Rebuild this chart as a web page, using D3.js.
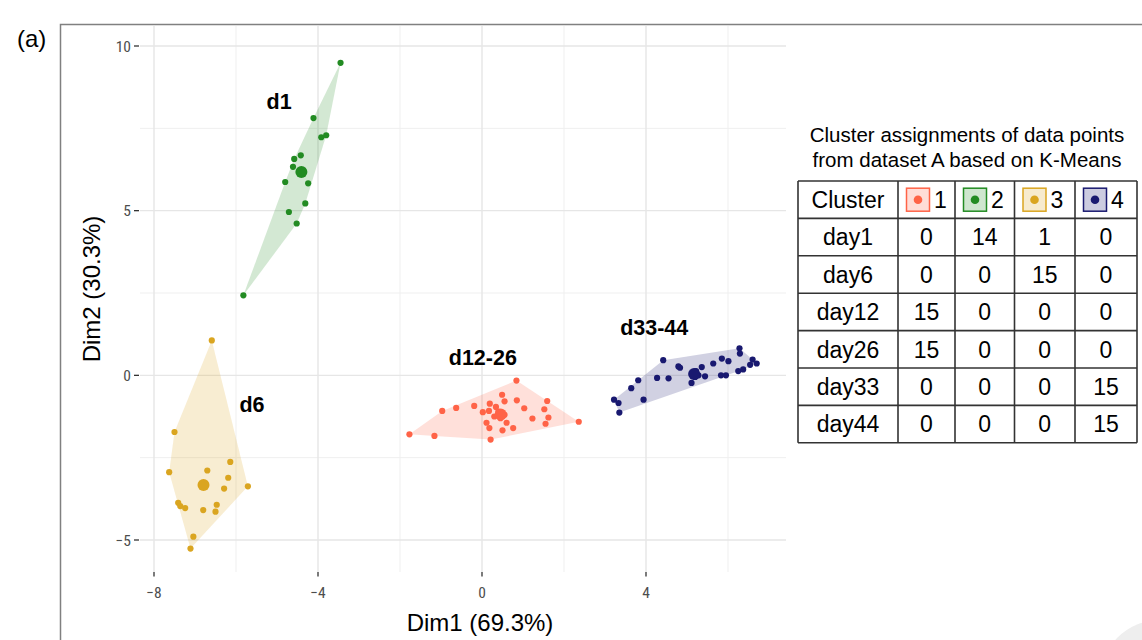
<!DOCTYPE html>
<html>
<head>
<meta charset="utf-8">
<script src="https://cdn.jsdelivr.net/npm/d3@7"></script>
<style>
  html, body { margin: 0; padding: 0; background: #fff; }
  svg { display: block; }
</style>
</head>
<body>
<svg id="chart" width="1142" height="640"></svg>
<script>
// ---- K-means results on the first two PCA dimensions ----
const cluster1X = [-1.77, -1.16, -0.97, -0.63, -0.19, 0.02, 0.19, 0.17, 0.34, 0.11, 0.18, 0.21, 0.50, 0.60, 0.76,
                   0.49, 0.55, 0.84, 0.85, 1.03, 1.23, 1.59, 1.52, 1.62, 1.55, 2.36, 0.40, 0.45, 0.30, 0.55];
const cluster1Y = [-1.79, -1.84, -1.08, -0.99, -0.93, -1.12, -0.86, -1.08, -0.96, -1.44, -1.60, -1.95, -1.67, -1.44, -1.60,
                   -0.59, -0.79, -0.16, -0.76, -1.00, -1.31, -0.78, -1.03, -1.28, -1.47, -1.41, -1.10, -1.30, -1.25, -1.20];

const cluster2X = [-3.45, -4.11, -3.92, -3.80, -4.42, -4.58, -4.61, -4.80, -4.24, -4.31, -4.71, -4.52, -5.82, -4.38];
const cluster2Y = [9.49, 7.81, 7.23, 7.29, 6.68, 6.57, 6.33, 5.87, 5.83, 5.22, 4.96, 4.61, 2.43, 6.15];

const cluster3X = [-6.59, -7.50, -7.63, -6.70, -6.14, -6.19, -6.29, -5.71, -7.41, -7.36, -7.24, -6.80, -6.47, -6.50, -7.04, -7.11];
const cluster3Y = [1.06, -1.72, -2.94, -2.89, -2.63, -3.11, -3.44, -3.37, -3.87, -3.97, -4.03, -4.09, -3.93, -4.14, -4.90, -5.26];

const cluster4X = [3.22, 3.33, 3.35, 3.64, 3.81, 3.94, 4.27, 4.42, 4.55, 4.79, 4.83, 5.11, 5.15, 5.22, 5.28,
                   5.36, 5.44, 5.64, 5.83, 5.95, 5.85, 6.01, 6.25, 6.37, 6.29, 6.28, 6.54, 6.60, 6.70, 5.20];
const cluster4Y = [-0.74, -0.84, -1.13, -0.39, -0.15, -0.74, -0.08, 0.46, -0.09, 0.27, 0.23, -0.23, 0.05, 0.13, 0.00,
                   0.25, -0.03, 0.36, 0.00, 0.00, 0.51, 0.43, 0.13, 0.18, 0.66, 0.82, 0.32, 0.48, 0.36, -0.05];

const clusterColors = ["#FF6347", "#228B22", "#DAA520", "#191970"];

// Group labels and their anchor in data units
const groupLabels = ["d12-26", "d1", "d6", "d33-44"];
const groupLabelX = [0.02, -4.95, -5.61, 4.20];
const groupLabelY = [0.55, 8.33, -0.88, 1.46];

// Axis ticks
const xTicks = [-8, -4, 0, 4];
const xMinor = [-6, -2, 2, 6];
const yTicks = [-5, 0, 5, 10];
const yMinor = [-2.5, 2.5, 7.5];

// Contingency table: sampling day vs assigned cluster
const tableDays = ["day1", "day6", "day12", "day26", "day33", "day44"];
const countsCluster1 = [0, 0, 15, 15, 0, 0];
const countsCluster2 = [14, 0, 0, 0, 0, 0];
const countsCluster3 = [1, 15, 0, 0, 0, 0];
const countsCluster4 = [0, 0, 0, 0, 15, 15];
const tableTitle = ["Cluster assignments of data points", "from dataset A based on K-Means"];

// ---- drawing ----
const svg = d3.select("#chart");
const FONT = "'Liberation Sans', Arial, Helvetica, sans-serif";
const NARROW = "'Liberation Sans Narrow', 'Arial Narrow', 'Roboto Condensed', 'Liberation Sans', sans-serif";

const x = d3.scaleLinear().domain([-8, 4]).range([154, 646]);
const y = d3.scaleLinear().domain([-5, 10]).range([540, 46]);

const panel = { left: 140, right: 786, top: 26, bottom: 572 };

// faint decoration at the lower right corner
svg.append("circle").attr("cx", 1160).attr("cy", 680).attr("r", 60).attr("fill", "#eeeeee");

// grid
const grid = svg.append("g");
grid.selectAll("line.vmin").data(xMinor).join("line")
  .attr("x1", d => x(d)).attr("x2", d => x(d)).attr("y1", panel.top).attr("y2", panel.bottom)
  .attr("stroke", "#efefef").attr("stroke-width", 1);
grid.selectAll("line.hmin").data(yMinor).join("line")
  .attr("y1", d => y(d)).attr("y2", d => y(d)).attr("x1", panel.left).attr("x2", panel.right)
  .attr("stroke", "#efefef").attr("stroke-width", 1);
grid.selectAll("line.vmaj").data(xTicks).join("line")
  .attr("x1", d => x(d)).attr("x2", d => x(d)).attr("y1", panel.top).attr("y2", panel.bottom)
  .attr("stroke", "#e6e6e6").attr("stroke-width", 1.4);
grid.selectAll("line.hmaj").data(yTicks).join("line")
  .attr("y1", d => y(d)).attr("y2", d => y(d)).attr("x1", panel.left).attr("x2", panel.right)
  .attr("stroke", "#e6e6e6").attr("stroke-width", 1.4);

const clusters = [
  { xs: cluster1X, ys: cluster1Y },
  { xs: cluster2X, ys: cluster2Y },
  { xs: cluster3X, ys: cluster3Y },
  { xs: cluster4X, ys: cluster4Y }
].map((c, i) => {
  const pts = c.xs.map((v, j) => [x(v), y(c.ys[j])]);
  return { pts, color: clusterColors[i], cx: d3.mean(c.xs), cy: d3.mean(c.ys) };
});

// convex hulls
svg.append("g").selectAll("path").data(clusters).join("path")
  .attr("d", d => "M" + d3.polygonHull(d.pts).join("L") + "Z")
  .attr("fill", d => d.color).attr("fill-opacity", 0.2);

// points
clusters.forEach(c => {
  svg.append("g").selectAll("circle").data(c.pts).join("circle")
    .attr("cx", d => d[0]).attr("cy", d => d[1]).attr("r", 3.1)
    .attr("fill", c.color);
  svg.append("circle").attr("cx", x(c.cx)).attr("cy", y(c.cy)).attr("r", 6)
    .attr("fill", c.color);
});

// group labels
svg.append("g").selectAll("text").data(groupLabels).join("text")
  .attr("x", (d, i) => x(groupLabelX[i])).attr("y", (d, i) => y(groupLabelY[i]))
  .attr("text-anchor", "middle").attr("dy", "0.36em")
  .attr("font-family", FONT).attr("font-weight", "bold").attr("font-size", 21.5)
  .attr("fill", "#000").text(d => d);

// axis ticks and labels
const axes = svg.append("g");
axes.selectAll("line.xt").data(xTicks).join("line")
  .attr("x1", d => x(d)).attr("x2", d => x(d)).attr("y1", panel.bottom).attr("y2", panel.bottom + 4.5)
  .attr("stroke", "#333").attr("stroke-width", 1.3);
axes.selectAll("text.xl").data(xTicks).join("text")
  .attr("x", d => x(d)).attr("y", 597.5).attr("text-anchor", "middle")
  .attr("font-family", NARROW).attr("font-size", 15.5).attr("fill", "#4d4d4d")
  .text(d => d < 0 ? "\u2212" + Math.abs(d) : d);
axes.selectAll("line.yt").data(yTicks).join("line")
  .attr("y1", d => y(d)).attr("y2", d => y(d)).attr("x1", 134).attr("x2", panel.left - 1)
  .attr("stroke", "#333").attr("stroke-width", 1.3);
axes.selectAll("text.yl").data(yTicks).join("text")
  .attr("x", 131).attr("y", d => y(d)).attr("dy", "0.36em").attr("text-anchor", "end")
  .attr("font-family", NARROW).attr("font-size", 15.5).attr("fill", "#4d4d4d")
  .text(d => d < 0 ? "\u2212" + Math.abs(d) : d);

// axis titles
svg.append("text").attr("x", 480).attr("y", 631).attr("text-anchor", "middle")
  .attr("font-family", FONT).attr("font-size", 24).attr("fill", "#000")
  .text("Dim1 (69.3%)");
svg.append("text").attr("transform", "translate(100,289) rotate(-90)").attr("text-anchor", "middle")
  .attr("font-family", FONT).attr("font-size", 24).attr("fill", "#000")
  .text("Dim2 (30.3%)");

// panel tag and frame
svg.append("text").attr("x", 17).attr("y", 47).attr("font-family", FONT).attr("font-size", 24)
  .attr("fill", "#000").text("(a)");
svg.append("path").attr("d", "M60.5,641V24.5H1143").attr("fill", "none")
  .attr("stroke", "#808080").attr("stroke-width", 1.5);

// ---- table ----
const colEdges = [798, 898, 955, 1014.5, 1075, 1137];
const rowTop = 181, rowH = 37.4;
const nRows = tableDays.length + 1;
const tbl = svg.append("g");

svg.append("g").selectAll("text").data(tableTitle).join("text")
  .attr("x", 967).attr("y", (d, i) => 142 + i * 25).attr("text-anchor", "middle")
  .attr("font-family", FONT).attr("font-size", 20.5).attr("fill", "#000").text(d => d);

const colCenter = i => (colEdges[i] + colEdges[i + 1]) / 2;
const rowCenter = r => rowTop + rowH * (r + 0.5);
const CELL = 23;

// header cells
tbl.append("text").attr("x", colCenter(0)).attr("y", rowCenter(0)).attr("dy", "0.36em")
  .attr("text-anchor", "middle").attr("font-family", FONT).attr("font-size", CELL).text("Cluster");
clusterColors.forEach((c, i) => {
  const sx = colEdges[i + 1] + 8.5, sy = rowCenter(0) - 11.5;
  tbl.append("rect").attr("x", sx).attr("y", sy).attr("width", 23).attr("height", 23)
    .attr("fill", c).attr("fill-opacity", 0.22).attr("stroke", c).attr("stroke-width", 1.5);
  tbl.append("circle").attr("cx", sx + 11.5).attr("cy", sy + 11.5).attr("r", 4.3).attr("fill", c);
  tbl.append("text").attr("x", sx + 34).attr("y", rowCenter(0)).attr("dy", "0.36em")
    .attr("text-anchor", "middle").attr("font-family", FONT).attr("font-size", CELL).text(i + 1);
});

// body cells
const countCols = [countsCluster1, countsCluster2, countsCluster3, countsCluster4];
tableDays.forEach((day, r) => {
  tbl.append("text").attr("x", colCenter(0)).attr("y", rowCenter(r + 1)).attr("dy", "0.36em")
    .attr("text-anchor", "middle").attr("font-family", FONT).attr("font-size", CELL).text(day);
  countCols.forEach((col, c) => {
    tbl.append("text").attr("x", colCenter(c + 1)).attr("y", rowCenter(r + 1)).attr("dy", "0.36em")
      .attr("text-anchor", "middle").attr("font-family", FONT).attr("font-size", CELL).text(col[r]);
  });
});

// grid lines of the table
d3.range(nRows + 1).forEach(r => {
  tbl.append("line").attr("x1", colEdges[0]).attr("x2", colEdges[colEdges.length - 1])
    .attr("y1", rowTop + r * rowH).attr("y2", rowTop + r * rowH)
    .attr("stroke", "#333").attr("stroke-width", 1.6);
});
colEdges.forEach(cx => {
  tbl.append("line").attr("x1", cx).attr("x2", cx)
    .attr("y1", rowTop).attr("y2", rowTop + nRows * rowH)
    .attr("stroke", "#333").attr("stroke-width", 1.6);
});
</script>
</body>
</html>
